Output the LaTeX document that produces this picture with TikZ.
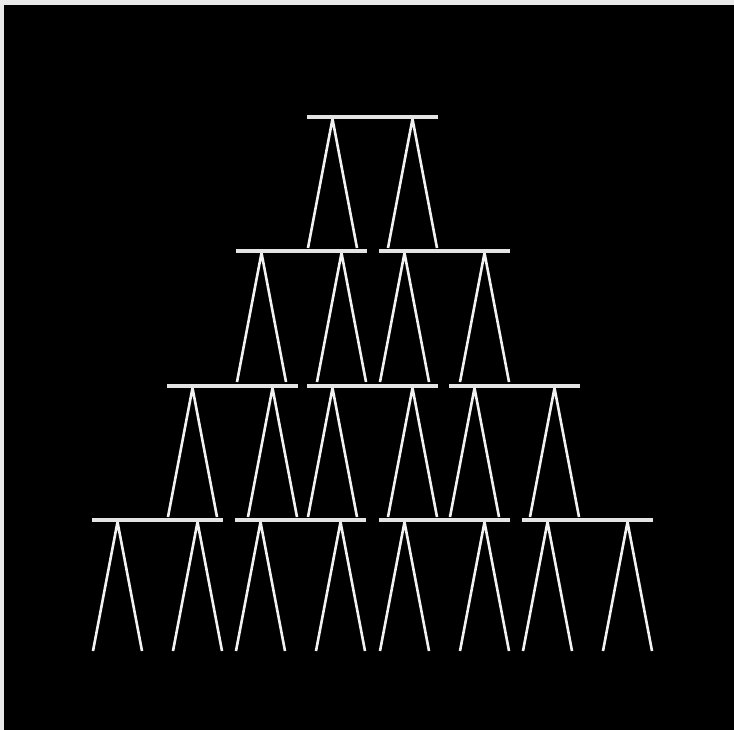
\documentclass[tikz,border=0pt]{standalone}
\usetikzlibrary{calc}

\definecolor{cardwhite}{HTML}{F2F2F2}
\definecolor{shelfgray}{HTML}{E4E4E4}
\definecolor{framegray}{HTML}{E9E9E9}

\tikzset{
  leg/.style={draw=cardwhite, line width=2.6pt, line join=bevel, line cap=butt},
  shelf/.style={draw=shelfgray, line width=3.6pt, line cap=butt}
}

\begin{document}
\begin{tikzpicture}[x=1pt, y=-1pt]
  \useasboundingbox (0,0) rectangle (734,730);
  \fill[framegray] (0,0) rectangle (734,730);
  \fill[black] (4,5) rectangle (734,730);
  % one group: a shelf card on top of two leaning pairs
  \foreach \l/\t in {307/117,
                     236/251, 379/251,
                     167/386, 307/386, 449/386,
                      92/520, 235/520, 379/520, 522/520}{
    \draw[leg] (\l+1,\t+131) -- (\l+25.5,\t+2) -- (\l+50,\t+131);
    \draw[leg] (\l+81,\t+131) -- (\l+105.5,\t+2) -- (\l+130,\t+131);
    \draw[shelf] (\l,\t) -- (\l+131,\t);
  }
\end{tikzpicture}
\end{document}
